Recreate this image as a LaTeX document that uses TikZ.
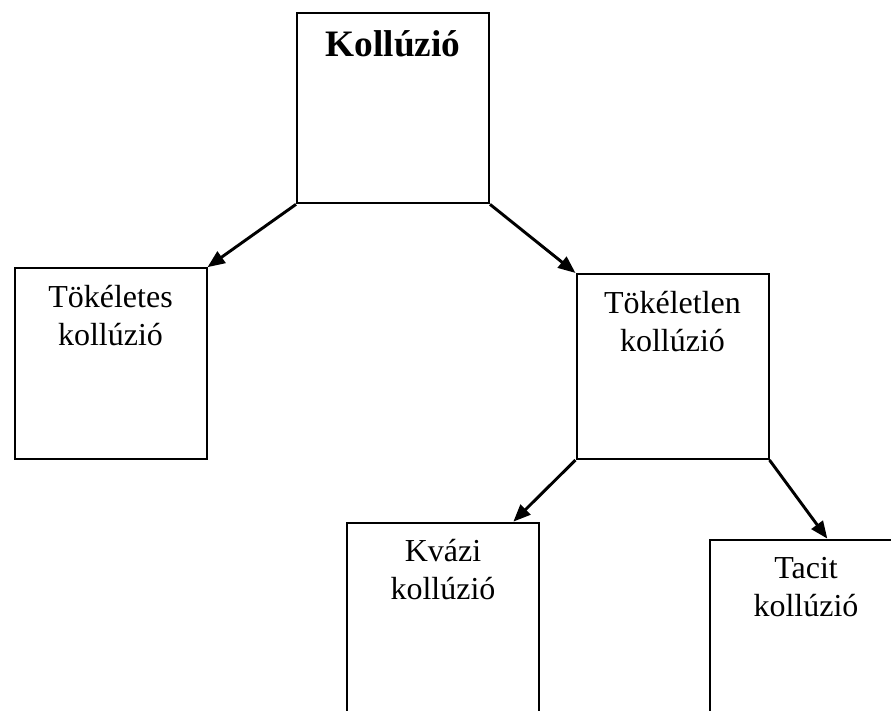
\documentclass[tikz,border=0pt]{standalone}
\usepackage{fontspec}
\setmainfont{Liberation Serif}
\usetikzlibrary{positioning,arrows.meta}

\begin{document}
\begin{tikzpicture}[
  x=0.375pt, y=-0.375pt,
  box/.style={draw, line width=0.75pt, inner sep=0pt, minimum width=72pt, minimum height=71.5pt},
  lbl/.style={font=\fontsize{12}{14.25}\selectfont, align=center, anchor=base, inner sep=0pt},
  arr/.style={-{Triangle[length=6.5pt,width=5.2pt]}, line width=1.1pt}
]
  \clip (0,0) rectangle (891,711);

  \node[box] (koll) at (393,108) {};
  \node[box] (tok) at (110.5,363.5) {};
  \node[box, minimum height=69.4pt] (toktl) at (672.5,366.5) {};
  \node[box, minimum height=94pt] (kvazi) at (443,648) {};
  \node[box, minimum height=94pt] (tacit) at (806,665) {};

  % base of a two-line label is the second line
  \node[lbl, font=\bfseries\fontsize{14}{16}\selectfont] (koll-t) at ([yshift=-16.9pt]koll.north) {Kollúzió};
  \node[lbl] (tok-t) at ([yshift=-29.25pt]tok.north) {Tökéletes\\kollúzió};
  \node[lbl] (toktl-t) at ([yshift=-29.5pt]toktl.north) {Tökéletlen\\kollúzió};
  \node[lbl] (kvazi-t) at ([yshift=-29.25pt]kvazi.north) {Kvázi\\kollúzió};
  \node[lbl] (tacit-t) at ([yshift=-29.25pt]tacit.north) {Tacit\\kollúzió};

  \coordinate (kvazi-in) at ([xshift=-10pt]kvazi.north east);
  \coordinate (tacit-in) at ([xshift=8pt]tacit.north);

  \draw[arr] (koll.south west) -- (tok.north east);
  \draw[arr] (koll.south east) -- (toktl.north west);
  \draw[arr] (toktl.south west) -- (kvazi-in);
  \draw[arr] (toktl.south east) -- (tacit-in);
\end{tikzpicture}
\end{document}
